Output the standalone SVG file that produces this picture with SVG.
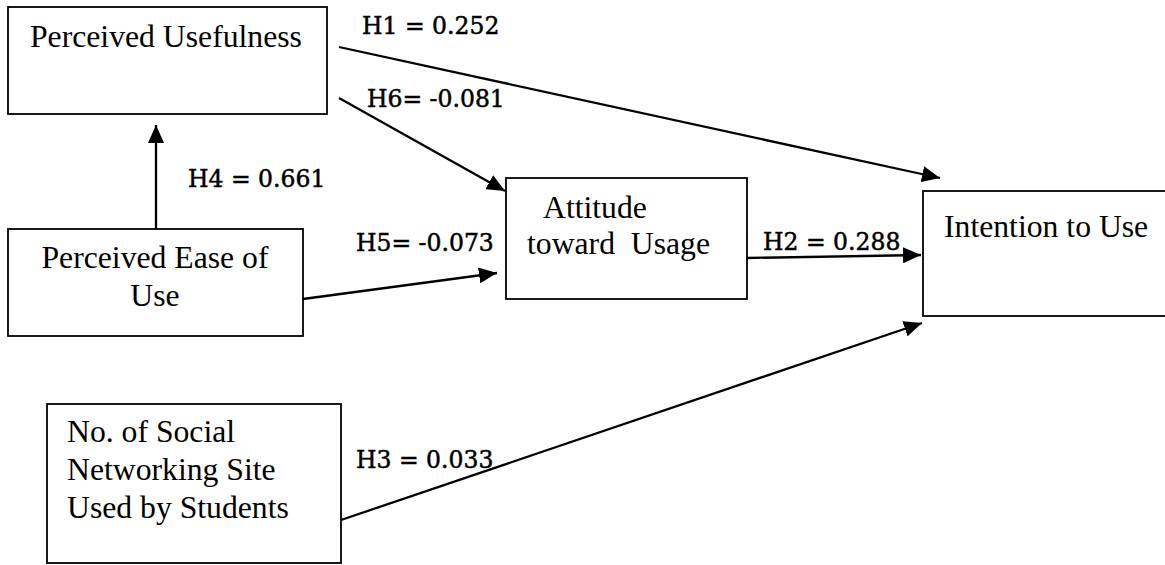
<svg xmlns="http://www.w3.org/2000/svg" width="1165" height="565" viewBox="0 0 1165 565">
<style>
.box{fill:#fff;stroke:#000;stroke-width:1.8}
.nt{font-family:"Liberation Serif","Times New Roman",serif;font-size:31.7px;fill:#000}
.lb{font-family:"DejaVu Serif",serif;font-size:23.5px;fill:#000;stroke:#000;stroke-width:0.5}
.ln{stroke:#000;stroke-width:2.3;fill:none;marker-end:url(#ah)}
</style>
<defs>
<marker id="ah" markerUnits="userSpaceOnUse" markerWidth="19" markerHeight="16" refX="18" refY="8" orient="auto">
<path d="M0,0 L18,8 L0,16 z" fill="#000"/>
</marker>
</defs>
<rect width="1165" height="565" fill="#fff"/>
<g id="connectors">
<line class="ln" x1="339" y1="47" x2="940" y2="178"/>
<line class="ln" x1="339" y1="98" x2="505" y2="191"/>
<line class="ln" x1="156" y1="229" x2="156" y2="125"/>
<line class="ln" x1="303" y1="299" x2="497" y2="273"/>
<line class="ln" x1="747" y1="258" x2="921" y2="255"/>
<line class="ln" x1="341" y1="520" x2="922" y2="323"/>
<text class="lb" x="362" y="34">H1 = 0.252</text>
<text class="lb" x="367" y="107">H6= -0.081</text>
<text class="lb" x="188" y="187">H4 = 0.661</text>
<text class="lb" x="356" y="251">H5= -0.073</text>
<text class="lb" x="763" y="250">H2 = 0.288</text>
<text class="lb" x="356" y="468">H3 = 0.033</text>
</g>
<g id="pu">
<rect class="box" x="8" y="7" width="319" height="107"/>
<text class="nt" x="30" y="47">Perceived Usefulness</text>
</g>
<g id="peou">
<rect class="box" x="8" y="229" width="295" height="107"/>
<text class="nt" x="155" y="268" text-anchor="middle">Perceived Ease of</text>
<text class="nt" x="155" y="306" text-anchor="middle">Use</text>
</g>
<g id="atu">
<rect class="box" x="506" y="178" width="241" height="121"/>
<text class="nt" x="543" y="218">Attitude</text>
<text class="nt" x="527" y="254" xml:space="preserve">toward  Usage</text>
</g>
<g id="itu">
<rect class="box" x="923" y="191" width="260" height="125"/>
<text class="nt" x="944" y="237">Intention to Use</text>
</g>
<g id="nsns">
<rect class="box" x="47" y="404" width="294" height="159"/>
<text class="nt" x="67" y="442">No. of Social</text>
<text class="nt" x="67" y="480">Networking Site</text>
<text class="nt" x="67" y="518">Used by Students</text>
</g>
</svg>
